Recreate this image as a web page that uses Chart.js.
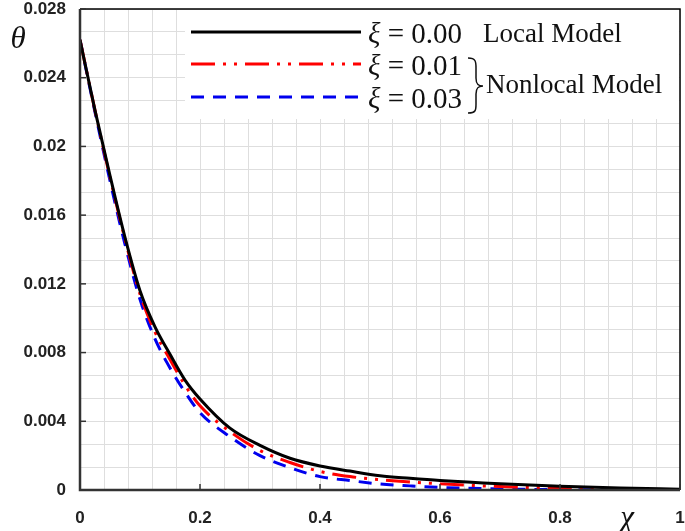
<!DOCTYPE html>
<html>
<head>
<meta charset="utf-8">
<script src="https://cdn.jsdelivr.net/npm/chart.js@4.4.0/dist/chart.umd.min.js"></script>
<style>
  html, body { margin: 0; padding: 0; background: #fff; }
  #wrap { width: 685px; height: 531px; }
</style>
</head>
<body>
<div id="wrap"><canvas id="myChart" width="685" height="531"></canvas></div>
<script>
// values
const xValues    = [0, 0.025, 0.05, 0.075, 0.1, 0.125, 0.15, 0.175, 0.2, 0.25, 0.3, 0.35, 0.4, 0.45, 0.5, 0.55, 0.6, 0.7, 0.8, 0.9, 1.0];
const localModel = [0.0262, 0.0221, 0.0183, 0.0147, 0.0116, 0.0095, 0.0079, 0.0064, 0.0053, 0.0036, 0.0026, 0.00185, 0.0014, 0.0011, 0.00083, 0.00068, 0.00055, 0.00036, 0.00022, 0.00012, 0.00005];
const nonlocal01 = [0.0262, 0.0221, 0.0182, 0.0146, 0.0114, 0.0092, 0.0076, 0.0061, 0.0049, 0.0034, 0.0023, 0.0016, 0.00108, 0.00078, 0.00060, 0.00047, 0.00036, 0.00020, 0.00010, 0.00005, 0.00002];
const nonlocal03 = [0.0262, 0.0220, 0.0180, 0.0143, 0.0111, 0.0088, 0.0071, 0.0057, 0.0045, 0.0031, 0.0020, 0.0013, 0.00078, 0.00055, 0.00035, 0.00024, 0.00015, 0.00006, 0.00002, 0.00001, 0];

const seriesNames = ['0.00', '0.01', '0.03'];
const xTickLabels = ['0', '0.2', '0.4', '0.6', '0.8', '1'];
const yTickLabels = ['0', '0.004', '0.008', '0.012', '0.016', '0.02', '0.024', '0.028'];
const xMax = 1, yMax = 0.028;
const xMinorPerMajor = 5, yMinorPerMajor = 3;

const toPoints = (ys) => ys.map((y, i) => ({ x: xValues[i], y: y }));

const serif = '"Liberation Serif", "DejaVu Serif", serif';

// draws the boxed legend, the frame, inside ticks and axis titles
const overlay = {
  id: 'overlay',
  beforeDatasetsDraw(chart) {
    const ctx = chart.ctx, a = chart.chartArea;
    ctx.save();
    ctx.fillStyle = '#fff';
    ctx.fillRect(185, a.top + 1, a.right - 186, 109);
    ctx.restore();
  },
  afterDatasetsDraw(chart) {
    const ctx = chart.ctx, a = chart.chartArea;
    const xs = chart.scales.x, ys = chart.scales.y;
    ctx.save();

    // frame
    ctx.strokeStyle = '#000';
    ctx.lineWidth = 1.5;
    ctx.beginPath();
    ctx.moveTo(a.left, a.top); ctx.lineTo(a.right, a.top); ctx.lineTo(a.right, a.bottom);
    ctx.stroke();
    ctx.strokeStyle = '#333';
    ctx.lineWidth = 2.5;
    ctx.beginPath();
    ctx.moveTo(a.left, a.top); ctx.lineTo(a.left, a.bottom); ctx.lineTo(a.right, a.bottom);
    ctx.stroke();

    // major ticks, pointing inwards
    ctx.lineWidth = 1.5;
    yTickLabels.forEach((_, i) => {
      const py = ys.getPixelForValue(i * yMax / (yTickLabels.length - 1));
      ctx.beginPath(); ctx.moveTo(a.left, py); ctx.lineTo(a.left + 6, py); ctx.stroke();
    });
    xTickLabels.forEach((_, i) => {
      const px = xs.getPixelForValue(i * xMax / (xTickLabels.length - 1));
      ctx.beginPath(); ctx.moveTo(px, a.bottom); ctx.lineTo(px, a.bottom - 6); ctx.stroke();
    });

    // legend
    const rows = [32, 64, 97];
    chart.data.datasets.forEach((ds, i) => {
      ctx.strokeStyle = ds.borderColor;
      ctx.lineWidth = ds.borderWidth;
      ctx.setLineDash(ds.borderDash || []);
      ctx.beginPath(); ctx.moveTo(191, rows[i]); ctx.lineTo(361, rows[i]); ctx.stroke();
      ctx.setLineDash([]);

      ctx.fillStyle = '#111';
      ctx.textBaseline = 'middle';
      ctx.textAlign = 'left';
      const ty = rows[i] + 3;
      ctx.font = 'italic 29px ' + serif;
      ctx.fillText('ξ', 368, ty);
      const w = ctx.measureText('ξ').width;
      ctx.font = '29px ' + serif;
      ctx.fillText(' = ' + seriesNames[i], 368 + w, ty);
    });
    ctx.font = '27px ' + serif;
    ctx.fillText('Local Model', 483, 35);
    ctx.fillText('Nonlocal Model', 486, 86);

    // brace
    ctx.strokeStyle = '#111';
    ctx.lineWidth = 1.5;
    ctx.beginPath();
    ctx.moveTo(468, 58);
    ctx.bezierCurveTo(476, 58, 476, 62, 476, 68);
    ctx.lineTo(476, 78);
    ctx.bezierCurveTo(476, 84, 478, 86, 483, 86);
    ctx.bezierCurveTo(478, 86, 476, 88, 476, 94);
    ctx.lineTo(476, 104);
    ctx.bezierCurveTo(476, 110, 476, 113, 468, 113);
    ctx.stroke();

    // axis titles
    ctx.fillStyle = '#111';
    ctx.textAlign = 'center';
    ctx.font = 'italic 31px ' + serif;
    ctx.fillText('θ', 18, 40);
    ctx.fillText('χ', 627, 519);

    ctx.restore();
  }
};

const tickFont = { family: '"Liberation Sans", Arial, sans-serif', size: 17, weight: 'bold' };

const ctx = document.getElementById('myChart').getContext('2d');
new Chart(ctx, {
  type: 'line',
  data: {
    datasets: [{
      label: 'ξ = 0.00',
      data: toPoints(localModel),
      borderColor: '#000',
      borderWidth: 3,
    }, {
      label: 'ξ = 0.01',
      data: toPoints(nonlocal01),
      borderColor: '#ff0000',
      borderWidth: 3,
      borderDash: [24, 8, 3, 8, 3, 8],
    }, {
      label: 'ξ = 0.03',
      data: toPoints(nonlocal03),
      borderColor: '#0000ee',
      borderWidth: 3,
      borderDash: [13, 9],
    }]
  },
  options: {
    responsive: false,
    animation: false,
    layout: { padding: { top: 9, right: 5, left: 0, bottom: 0 } },
    elements: {
      point: { radius: 0 },
      line: { cubicInterpolationMode: 'monotone', fill: false, borderCapStyle: 'butt' }
    },
    plugins: { legend: { display: false }, tooltip: { enabled: false } },
    scales: {
      x: {
        type: 'linear',
        min: 0, max: xMax,
        afterFit: (s) => { s.height = 41; s.paddingLeft = 0; s.paddingRight = 0; },
        afterBuildTicks: (s) => {
          const n = (xTickLabels.length - 1) * xMinorPerMajor;
          s.ticks = Array.from({ length: n + 1 }, (_, i) => ({ value: i * xMax / n }));
        },
        grid: { color: 'rgb(222,222,222)', lineWidth: 1, drawTicks: false },
        border: { display: false },
        ticks: {
          autoSkip: false, maxRotation: 0, padding: 18,
          color: '#222',
          font: tickFont,
          callback: (v, i) => (i % xMinorPerMajor === 0 ? xTickLabels[i / xMinorPerMajor] : '')
        }
      },
      y: {
        type: 'linear',
        min: 0, max: yMax,
        afterFit: (s) => { s.width = 80; s.paddingTop = 0; s.paddingBottom = 0; },
        afterBuildTicks: (s) => {
          const n = (yTickLabels.length - 1) * yMinorPerMajor;
          s.ticks = Array.from({ length: n + 1 }, (_, i) => ({ value: i * yMax / n }));
        },
        grid: { color: 'rgb(222,222,222)', lineWidth: 1, drawTicks: false },
        border: { display: false },
        ticks: {
          autoSkip: false, padding: 14,
          color: '#222',
          font: tickFont,
          callback: (v, i) => (i % yMinorPerMajor === 0 ? yTickLabels[i / yMinorPerMajor] : '')
        }
      }
    }
  },
  plugins: [overlay]
});
</script>
</body>
</html>
